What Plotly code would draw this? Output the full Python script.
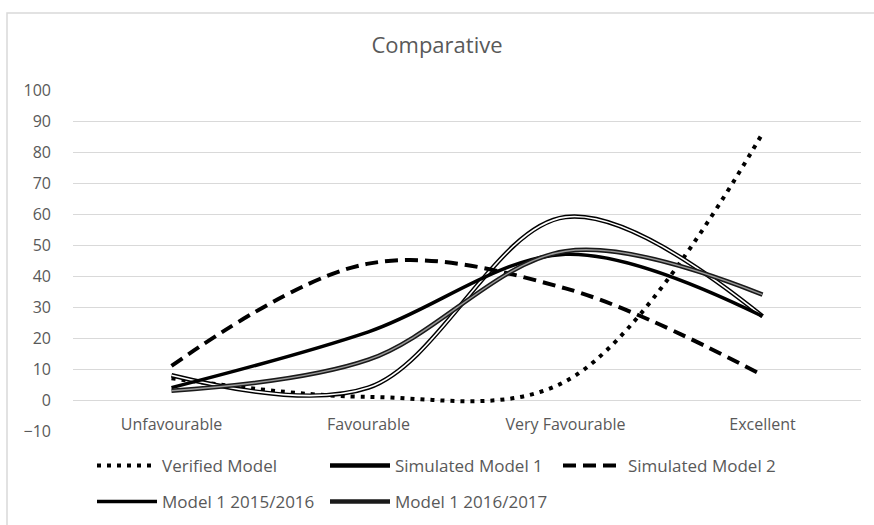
import plotly.graph_objects as go

# Categories and series values
categories = ["Unfavourable", "Favourable", "Very Favourable", "Excellent"]
verified_model = [7, 1, 6, 86]
simulated_model_1 = [8, 4, 59, 27]
simulated_model_2 = [11, 44, 36, 8]
model_1_2015_2016 = [4, 22, 47, 27]
model_1_2016_2017 = [3, 13, 48, 34]
y_ticks = list(range(-10, 101, 10))

FONT = "Open Sans"
TEXT = "#595959"
GRID = "#d9d9d9"

fig = go.Figure()


def add_line(name, values, color, width, dash="solid", legend="legend"):
    fig.add_trace(go.Scatter(
        x=categories, y=values, name=name, mode="lines",
        line=dict(color=color, width=width, dash=dash, shape="spline", smoothing=1),
        legend=legend,
    ))


def add_core(values, color, width):
    # thin inner stroke that gives the double-line look
    fig.add_trace(go.Scatter(
        x=categories, y=values, mode="lines", showlegend=False, hoverinfo="skip",
        line=dict(color=color, width=width, shape="spline", smoothing=1),
    ))


add_line("Verified Model", verified_model, "#000000", 4, dash="4px,6px")
add_line("Simulated Model 1", simulated_model_1, "#000000", 4.5)
add_core(simulated_model_1, "#ffffff", 1.6)
add_line("Simulated Model 2", simulated_model_2, "#000000", 4, dash="13px,7px")
add_line("Model 1 2015/2016", model_1_2015_2016, "#000000", 3.5, legend="legend2")
add_line("Model 1 2016/2017", model_1_2016_2017, "#1a1a1a", 4.5, legend="legend2")
add_core(model_1_2016_2017, "#9a9a9a", 1.4)

legend_common = dict(
    orientation="h", xref="container", yref="container",
    xanchor="left", yanchor="middle",
    entrywidth=158, entrywidthmode="pixels", itemwidth=60,
    font=dict(family=FONT, size=17, color=TEXT),
    bgcolor="rgba(0,0,0,0)", itemclick=False, itemdoubleclick=False,
)

fig.update_layout(
    width=874, height=525,
    margin=dict(l=73, r=13, t=90, b=94, autoexpand=False),
    paper_bgcolor="white", plot_bgcolor="white",
    font=dict(family=FONT, color=TEXT, size=16),
    title=dict(text="Comparative", x=0.5, xanchor="center", y=0.914, yanchor="middle",
               xref="container",
               font=dict(family=FONT, size=22, color=TEXT)),
    legend=dict(x=92 / 874, y=(525 - 466) / 525, **legend_common),
    legend2=dict(x=92 / 874, y=(525 - 502) / 525, **legend_common),
    xaxis=dict(
        type="category", categoryorder="array", categoryarray=categories,
        range=[-0.5, 3.5], showgrid=False, zeroline=False, showline=False,
        ticks="", anchor="free", position=10 / 110, ticklabelstandoff=13,
        tickfont=dict(family=FONT, size=16, color=TEXT),
    ),
    yaxis=dict(
        range=[-10, 100], tickvals=y_ticks, showgrid=True, gridcolor=GRID, gridwidth=1,
        zeroline=False, showline=False, ticks="", ticklabelstandoff=21,
        tickfont=dict(family=FONT, size=16, color=TEXT),
    ),
    shapes=[dict(
        type="rect", xref="paper", yref="paper",
        x0=(7 - 73) / 788, x1=1.2, y0=-0.6, y1=(431 - 13) / 341,
        line=dict(color=GRID, width=1.5), layer="below",
    )],
    showlegend=True,
)

fig.write_html("out.html")
